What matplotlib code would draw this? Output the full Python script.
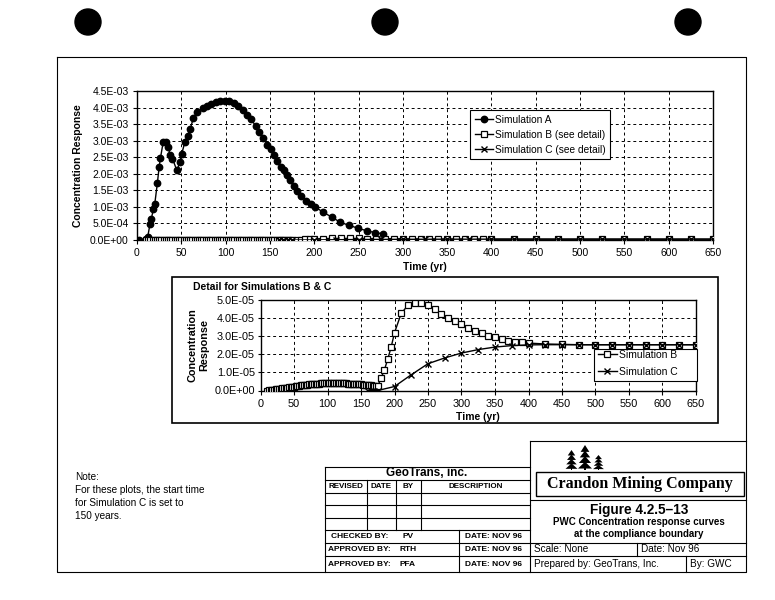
import matplotlib
matplotlib.use('Agg')
import matplotlib.pyplot as plt
from matplotlib.ticker import FuncFormatter
from matplotlib.patches import Circle, Rectangle, Polygon
import numpy as np

plt.rcParams['font.family'] = ['Liberation Sans', 'DejaVu Sans']

# ---------------- data ----------------
# Simulation A (main chart), concentration in units of 1e-3
time_a = [2.5, 10, 12, 14.7, 16.2, 18.5, 20, 23, 25, 26.5, 29.5, 32.5, 35, 37.5, 40, 45,
          48.5, 50.5, 54, 57, 60, 63.5, 68, 74, 79, 84, 89, 94, 99, 104, 109.5, 114, 120,
          124.5, 129, 134, 138, 142.5, 147, 151, 154.5, 158, 162, 165.5, 169.5, 173, 177,
          181, 185.5, 191, 196, 201, 210, 220, 229, 239.5, 249, 259, 269, 278]
sim_a_e3 = [0.0, 0.02, 0.08, 0.49, 0.64, 0.94, 1.08, 1.72, 2.21, 2.48, 2.95, 2.95, 2.82, 2.56, 2.46, 2.10,
            2.36, 2.61, 2.95, 3.15, 3.35, 3.67, 3.87, 4.00, 4.05, 4.10, 4.16, 4.20, 4.21, 4.20, 4.13, 4.04, 3.94,
            3.79, 3.64, 3.44, 3.25, 3.08, 2.88, 2.76, 2.56, 2.38, 2.21, 2.12, 1.97, 1.80, 1.62,
            1.48, 1.33, 1.18, 1.08, 1.00, 0.84, 0.69, 0.54, 0.44, 0.36, 0.28, 0.22, 0.19]

# Simulation B, concentration in units of 1e-5
time_b = [10, 12.5, 15, 17.5, 20, 22.5, 25, 27.5, 30, 32.5, 35, 37.5, 40, 42.5, 45, 47.5,
          50, 52.5, 55, 57.5, 60, 62.5, 65, 67.5, 70, 72.5, 75, 77.5, 80, 82.5, 85, 87.5,
          90, 92.5, 95, 97.5, 100, 102.5, 105, 107.5, 110, 112.5, 115, 117.5, 120, 122.5,
          125, 127.5, 130, 132.5, 135, 137.5, 140, 142.5, 145, 147.5, 150, 152.5, 155,
          157.5, 160, 162.5, 165, 167.5, 170, 172.5, 175,
          180, 185, 190, 195, 200, 210, 220, 230, 240, 250, 260, 270, 280, 290, 300,
          310, 320, 330, 340, 350, 360, 370, 380, 390, 400, 425, 450, 475, 500, 525,
          550, 575, 600, 625, 650]
sim_b_e5 = [0.00, 0.01, 0.02, 0.03, 0.05, 0.06, 0.08, 0.09, 0.10, 0.12, 0.13, 0.15, 0.16, 0.18, 0.19, 0.21,
            0.22, 0.24, 0.25, 0.27, 0.28, 0.30, 0.31, 0.32, 0.33, 0.34, 0.35, 0.36, 0.37, 0.37, 0.38, 0.38,
            0.39, 0.39, 0.40, 0.40, 0.40, 0.40, 0.40, 0.40, 0.40, 0.40, 0.40, 0.40, 0.40, 0.39,
            0.39, 0.39, 0.38, 0.38, 0.37, 0.37, 0.36, 0.36, 0.35, 0.34, 0.34, 0.33, 0.32,
            0.31, 0.30, 0.29, 0.28, 0.27, 0.26, 0.25, 0.24,
            0.69, 1.15, 1.74, 2.40, 3.19, 4.26, 4.70, 4.82, 4.85, 4.72, 4.48, 4.24, 4.02, 3.83, 3.65,
            3.45, 3.30, 3.15, 3.03, 2.93, 2.85, 2.76, 2.70, 2.66, 2.62, 2.57, 2.55, 2.53, 2.53, 2.53,
            2.53, 2.53, 2.53, 2.53, 2.53]

# Simulation C, concentration in units of 1e-5
time_c = [160, 165, 170, 175, 200, 225, 250, 275, 300, 325, 350, 375, 400, 425, 450, 475,
          500, 525, 550, 575, 600, 625, 650]
sim_c_e5 = [0.0, 0.0, 0.0, 0.0, 0.22, 0.87, 1.48, 1.80, 2.07, 2.26, 2.40, 2.48, 2.52, 2.53, 2.53, 2.53,
            2.53, 2.53, 2.53, 2.53, 2.53, 2.53, 2.53]

x_ticks = [0, 50, 100, 150, 200, 250, 300, 350, 400, 450, 500, 550, 600, 650]
main_y_ticks = [0, 5e-4, 1e-3, 1.5e-3, 2e-3, 2.5e-3, 3e-3, 3.5e-3, 4e-3, 4.5e-3]
detail_y_ticks = [0, 1e-5, 2e-5, 3e-5, 4e-5, 5e-5]

sim_a = np.array(sim_a_e3) * 1e-3
sim_b = np.array(sim_b_e5) * 1e-5
sim_c = np.array(sim_c_e5) * 1e-5

# ---------------- figure ----------------
W, H = 775, 600
fig = plt.figure(figsize=(W / 100, H / 100), dpi=100)
fig.patch.set_facecolor('white')


def px_axes(l, t, r, b):
    return fig.add_axes([l / W, 1 - b / H, (r - l) / W, (b - t) / H])


ov = fig.add_axes([0, 0, 1, 1])
ov.set_xlim(0, W)
ov.set_ylim(H, 0)
ov.axis('off')
ov.patch.set_alpha(0)
ov.set_zorder(0)

# punch holes
for cx in (88, 385, 688):
    ov.add_patch(Circle((cx, 22), 13, color='black'))

# outer frame
ov.plot([57, 746, 746, 57, 57], [57, 57, 572, 572, 57], color='black', lw=0.8)

# detail box
ov.add_patch(Rectangle((172, 277), 546, 146, fill=False, lw=1.2, ec='black'))

fmt = FuncFormatter(lambda v, _: f"{v:.1E}")
grid_kw = dict(color='black', lw=0.7, ls=(0, (3, 3)))

# ---------------- main chart ----------------
ax = px_axes(137, 91, 713, 240)
ax.set_zorder(1)
ax.plot(time_a, sim_a, '-o', color='black', ms=4.6, lw=1.0, label='Simulation A', zorder=3)
ax.plot(time_b, sim_b, '-s', color='black', mfc='white', mec='black', ms=3.8, mew=0.9, lw=1.0,
        label='Simulation B (see detail)', zorder=3)
ax.plot(time_c, sim_c, '-x', color='black', ms=4.5, mew=1.0, lw=1.0,
        label='Simulation C (see detail)', zorder=3)
ax.set_xlim(0, 650)
ax.set_ylim(0, 4.5e-3)
ax.set_xticks(x_ticks)
ax.set_yticks(main_y_ticks)
ax.yaxis.set_major_formatter(fmt)
ax.grid(True, **grid_kw)
ax.set_axisbelow(True)
ax.tick_params(labelsize=7.5, direction='out', length=3, width=0.8, pad=3)
for s in ax.spines.values():
    s.set_linewidth(1.0)
ax.set_xlabel('Time (yr)', fontsize=7.5, fontweight='bold', labelpad=3)
ax.set_ylabel('Concentration Response', fontsize=7.5, fontweight='bold', labelpad=5)
leg = ax.legend(loc='upper left', bbox_to_anchor=(470 / W, 1 - 110 / H), bbox_transform=fig.transFigure,
                fontsize=7.3, frameon=True, fancybox=False, edgecolor='black', framealpha=1,
                borderpad=0.45, handlelength=1.8, labelspacing=0.5, handletextpad=0.2,
                borderaxespad=0)
leg.get_frame().set_linewidth(0.8)

# ---------------- detail chart ----------------
ax2 = px_axes(260.5, 300, 696, 390.5)
ax2.set_zorder(1)
ax2.plot(time_b, sim_b, '-s', color='black', mfc='white', mec='black', ms=4.0, mew=0.9, lw=1.0,
         label='Simulation B', zorder=3)
ax2.plot(time_c, sim_c, '-x', color='black', ms=5, mew=1.0, lw=1.0, label='Simulation C', zorder=3)
ax2.set_xlim(0, 650)
ax2.set_ylim(0, 5e-5)
ax2.set_xticks(x_ticks)
ax2.set_yticks(detail_y_ticks)
ax2.yaxis.set_major_formatter(fmt)
ax2.grid(True, **grid_kw)
ax2.set_axisbelow(True)
ax2.tick_params(axis='y', labelsize=7.8, direction='out', length=2.5, width=0.8, pad=1.5)
ax2.tick_params(axis='x', labelsize=7.8, direction='out', length=3, width=0.8, pad=3)
for s in ax2.spines.values():
    s.set_linewidth(1.0)
ax2.set_xlabel('Time (yr)', fontsize=7.5, fontweight='bold', labelpad=2)
ax2.set_ylabel('Concentration\nResponse', fontsize=7.8, fontweight='bold', labelpad=4)
# legend: own text/handles, frame drawn at the reference position (above lines)
leg2 = ax2.legend(loc='upper left', bbox_to_anchor=(596 / W, 1 - 348 / H), bbox_transform=fig.transFigure,
                  fontsize=7.5, frameon=False, borderpad=0.2, handlelength=1.8,
                  labelspacing=0.65, handletextpad=0.2, borderaxespad=0)
leg2.set_zorder(6)
ax2.add_patch(Rectangle((594, 349), 103, 32, transform=ov.transData, clip_on=False,
                        fc='white', ec='black', lw=0.8, zorder=5))
ov.text(193, 287, 'Detail for Simulations B & C', fontsize=7.5, fontweight='bold', va='center', ha='left')

# ---------------- note ----------------
note_lines = ['Note:', 'For these plots, the start time', 'for Simulation C is set to', '150 years.']
for i, ln in enumerate(note_lines):
    ov.text(75, 477 + 13 * i, ln, fontsize=7.2, va='center', ha='left')

# ---------------- title block ----------------
lw_t = 0.8
def hl(y, x0, x1):
    ov.plot([x0, x1], [y, y], color='black', lw=lw_t)
def vl(x, y0, y1):
    ov.plot([x, x], [y0, y1], color='black', lw=lw_t)

for y in (467, 480, 493, 505, 518, 530, 543, 556):
    hl(y, 325, 530)
vl(325, 467, 572)
for x in (366.7, 396, 420.7):
    vl(x, 480, 530)
vl(459.3, 530, 572)
vl(530, 441, 572)
hl(441, 530, 746)
hl(500, 530, 746)
hl(543, 530, 746)
hl(556, 530, 746)
vl(637.3, 543, 556)
vl(686, 556, 572)
ov.add_patch(Rectangle((536, 472), 208, 24, fill=False, lw=1.0, ec='black'))

ov.text(427, 473.5, 'GeoTrans, inc.', fontsize=8.5, fontweight='bold', ha='center', va='center')
for x, s in ((345.8, 'REVISED'), (381.3, 'DATE'), (408.3, 'BY'), (475.3, 'DESCRIPTION')):
    ov.text(x, 486.5, s, fontsize=5.8, fontweight='bold', ha='center', va='center')
rows = [('CHECKED BY:', 'PV', 536.5, 331), ('APPROVED BY:', 'RTH', 549.5, 328), ('APPROVED BY:', 'PFA', 564, 328)]
for lab, who, y, x0 in rows:
    ov.text(x0, y, lab, fontsize=6, fontweight='bold', ha='left', va='center')
    ov.text(408, y, who, fontsize=6, fontweight='bold', ha='center', va='center')
    ov.text(465, y, 'DATE: NOV 96', fontsize=6, fontweight='bold', ha='left', va='center')

# trees
def tree(cx, top, bottom, half_w):
    n = 4
    h = bottom - top
    for k in range(n):
        t0 = top + k * h / (n + 0.5)
        t1 = t0 + h / n * 1.1
        w = half_w * (0.5 + 0.5 * (k + 1) / n)
        ov.add_patch(Polygon([(cx, t0), (cx - w, t1), (cx + w, t1)], closed=True, color='black', lw=0))
    ov.add_patch(Rectangle((cx - 0.8, bottom - 3), 1.6, 3, color='black', lw=0))

tree(571.5, 450, 470, 6)
tree(585, 445, 470, 7)
tree(598.5, 455, 470, 5.5)

ov.text(640, 484, 'Crandon Mining Company', fontsize=11.5, fontweight='bold',
        family=['Liberation Serif', 'DejaVu Serif'], ha='center', va='center')
ov.text(639, 510, 'Figure 4.2.5\u201313', fontsize=9.8, fontweight='bold', ha='center', va='center')
ov.text(639, 522, 'PWC Concentration response curves', fontsize=7, fontweight='bold', ha='center', va='center')
ov.text(639, 534, 'at the compliance boundary', fontsize=7, fontweight='bold', ha='center', va='center')
ov.text(533.5, 549.5, 'Scale: None', fontsize=7.2, ha='left', va='center')
ov.text(641, 549.5, 'Date: Nov 96', fontsize=7.2, ha='left', va='center')
ov.text(533.5, 564, 'Prepared by: GeoTrans, Inc.', fontsize=7.2, ha='left', va='center')
ov.text(690, 564, 'By: GWC', fontsize=7.2, ha='left', va='center')

fig.savefig('out.png', dpi=100, facecolor='white')
